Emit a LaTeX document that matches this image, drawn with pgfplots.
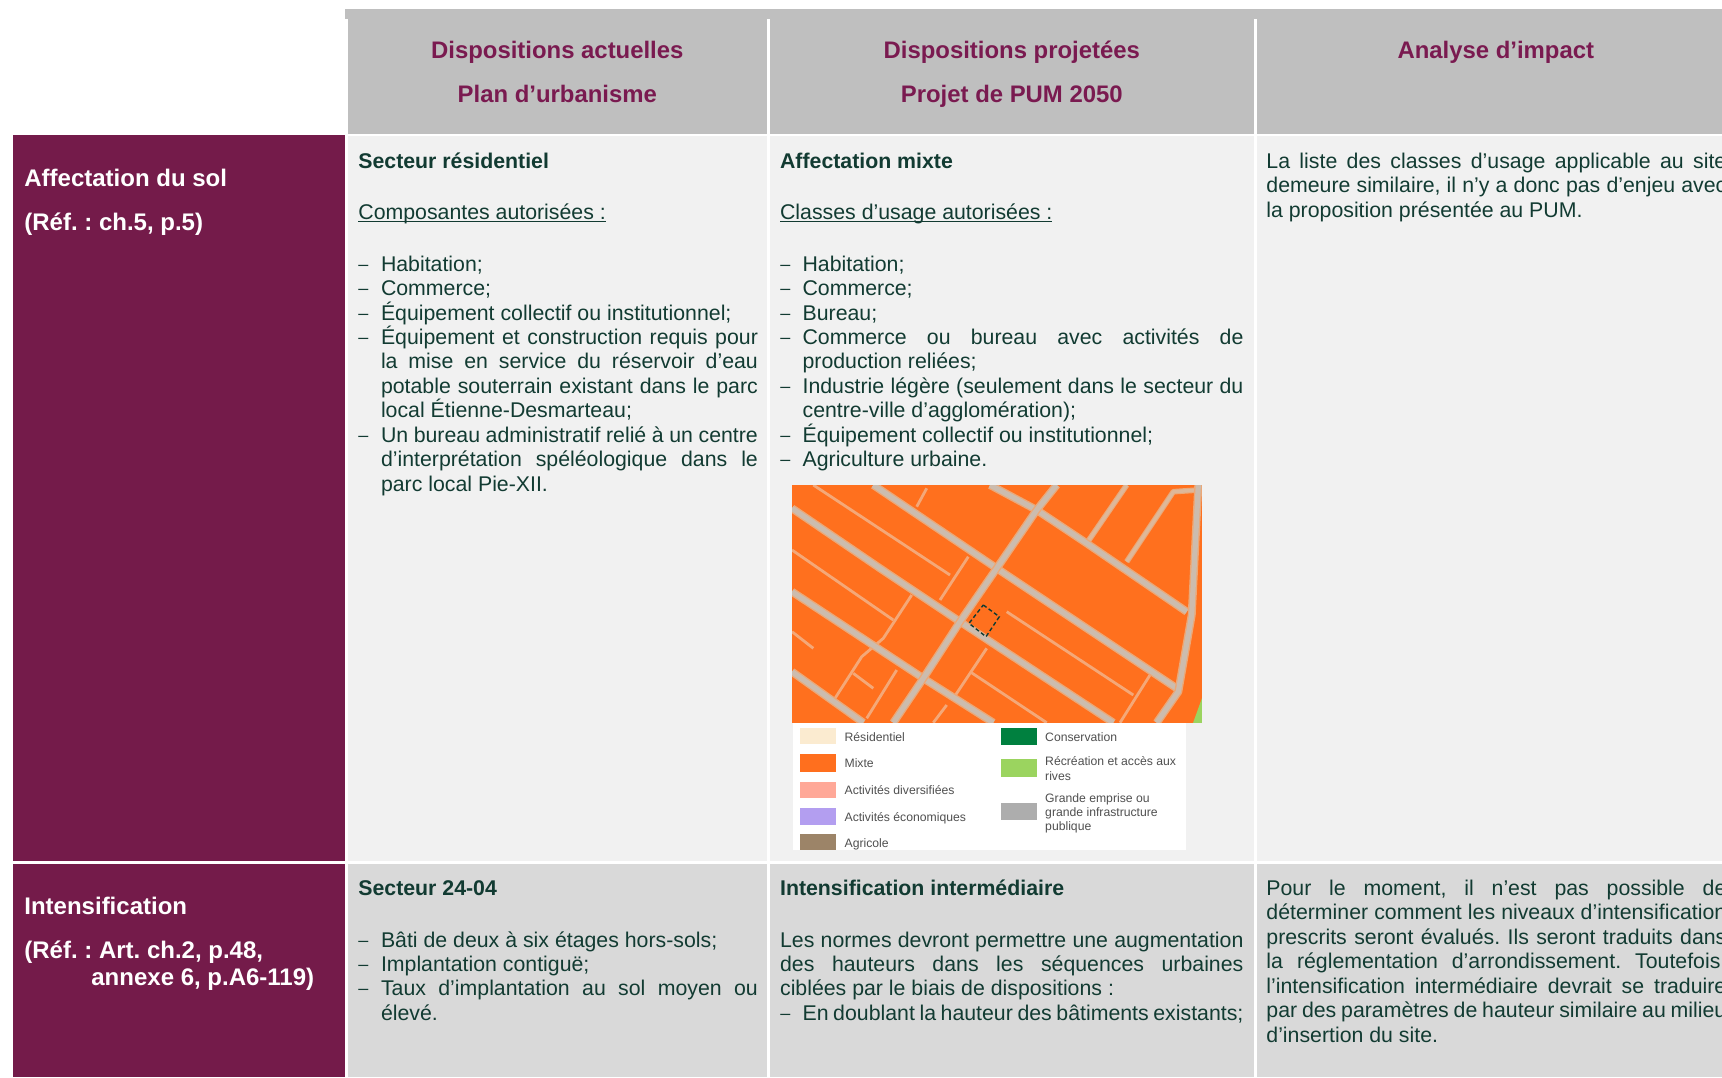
\documentclass[border=0pt]{standalone}
\usepackage{pgfplots}
\pgfplotsset{compat=1.18}
\usepackage{fontspec}
\setmainfont{Liberation Sans}
\frenchspacing
\definecolor{purp}{HTML}{741B4A}
\definecolor{headc}{HTML}{BFBFBF}
\definecolor{rowa}{HTML}{F1F1F1}
\definecolor{rowb}{HTML}{D9D9D9}
\definecolor{tx}{HTML}{123B32}
\definecolor{headt}{HTML}{7A1A50}
\definecolor{mapo}{HTML}{FF701E}
\definecolor{mapg}{HTML}{9BD45F}
\definecolor{roadM}{HTML}{CCBCAE}
\definecolor{roadH}{HTML}{EBA878}
\definecolor{roadN}{HTML}{DDB89A}
\definecolor{roadS}{HTML}{F4A878}
\definecolor{legt}{HTML}{505050}
\definecolor{la}{HTML}{FBEBD0}
\definecolor{lb}{HTML}{FF6F1E}
\definecolor{lc}{HTML}{FFA898}
\definecolor{ld}{HTML}{B39EF0}
\definecolor{le}{HTML}{9C8468}
\definecolor{lf}{HTML}{00803F}
\definecolor{lg}{HTML}{ADADAD}
\newcommand\Bd{\fontsize{10.65}{12}\selectfont\frenchspacing}
\newcommand\Ul[1]{\setbox0\hbox{#1}\rlap{\rule[-1.7pt]{\wd0}{0.6pt}}\box0}
\newcommand\Ds{{\fontsize{9}{10}\selectfont\raisebox{0.5pt}{–}}}
\newcommand\T[3]{\node[anchor=base west,inner sep=0pt,text=tx] at (axis cs:#1,#2){\Bd #3};}
\newcommand\J[4]{\node[anchor=base west,inner sep=0pt,text=tx] at (axis cs:#1,#2){\Bd\makebox[#3][s]{#4}};}
\newcommand\B[3]{\node[anchor=base west,inner sep=0pt,text=white] at (axis cs:#1,#2){\fontsize{12}{13}\selectfont\bfseries\frenchspacing #3};}
\newcommand\Hd[3]{\node[anchor=base,inner sep=0pt,text=headt] at (axis cs:#1,#2){\fontsize{11.95}{13}\selectfont\bfseries #3};}
\newcommand\Lg[3]{\node[anchor=base west,inner sep=0pt,text=legt] at (axis cs:#1,#2){\fontsize{6.1}{7}\selectfont #3};}
\newcommand\Rect[5]{\addplot[draw=none,fill=#5,forget plot] coordinates {(#1,#2)(#3,#2)(#3,#4)(#1,#4)} --cycle;}
\pgfplotsset{maj/.style={roadM,line width=2.6pt,line join=round,no markers,forget plot,preaction={draw,roadH,line width=4pt}},
  med/.style={roadN,line width=1.7pt,line join=round,no markers,forget plot,preaction={draw,roadH,line width=2.8pt}},
  mnr/.style={roadS,line width=1.4pt,line join=round,no markers,forget plot}}
\begin{document}
\begin{tikzpicture}
\useasboundingbox (0,0) rectangle (861pt,538.5pt);
\begin{axis}[at={(0,0)},anchor=south west,scale only axis,width=861pt,height=538.5pt,
  xmin=0,xmax=1722,ymin=0,ymax=1077,y dir=reverse,hide axis]
% table cells
\Rect{345}{9}{1722}{19}{headc}
\Rect{348}{19}{767}{134}{headc}
\Rect{770}{19}{1254}{134}{headc}
\Rect{1257}{19}{1722}{134}{headc}
\Rect{13}{135}{345}{861}{purp}
\Rect{348}{136}{767}{861}{rowa}
\Rect{770}{136}{1254}{861}{rowa}
\Rect{1257}{136}{1722}{861}{rowa}
\Rect{13}{864}{345}{1077}{purp}
\Rect{348}{864}{767}{1077}{rowb}
\Rect{770}{864}{1254}{1077}{rowb}
\Rect{1257}{864}{1722}{1077}{rowb}
% map
\Rect{792}{485}{1202}{723}{mapo}
\addplot[draw=none,fill=mapg,forget plot] coordinates {(1193,723)(1202,698)(1202,723)} --cycle;
\addplot[mnr] coordinates {(813.3,485)(950,575)};
\addplot[mnr] coordinates {(792,550)(893.3,620)};
\addplot[mnr] coordinates {(1006.7,611.7)(1133.3,695)};
\addplot[mnr] coordinates {(792,631.7)(813.3,648.3)};
\addplot[mnr] coordinates {(970,671.7)(1046.7,722.7)};
\addplot[mnr] coordinates {(853.3,673.3)(873.3,688.3)};
\addplot[mnr] coordinates {(926.7,488.3)(916.7,506.7)};
\addplot[mnr] coordinates {(968.3,556.7)(940,600)};
\addplot[mnr] coordinates {(911.7,595)(883.3,638.3)(861.7,656.7)(835,698.3)};
\addplot[mnr] coordinates {(896.7,670)(866.7,718.3)};
\addplot[mnr] coordinates {(986.7,648.3)(953.3,698.3)};
\addplot[mnr] coordinates {(1150,675)(1120,722.7)};
\addplot[mnr] coordinates {(946.7,705)(933.3,722.7)};
\addplot[med] coordinates {(1126.7,485)(1086.7,543.3)};
\addplot[med] coordinates {(1198.3,490)(1173.3,491.7)(1126.7,561.7)};
\addplot[maj] coordinates {(873.3,485)(996.7,568.3)(1176.7,688.3)};
\addplot[maj] coordinates {(990,485)(1036.7,510)(1086.7,543.3)(1186.7,611.7)};
\addplot[maj] coordinates {(792,508.3)(880,568.3)(960,621.7)(1113.3,722.7)};
\addplot[maj] coordinates {(792,591.7)(923.3,678.3)(993.3,722.7)};
\addplot[maj] coordinates {(792,671.7)(863.3,722.7)};
\addplot[maj] coordinates {(1056.7,485)(1036.7,510)(996.7,568.3)(960,621.7)(923.3,678.3)(893.3,722.7)};
\addplot[maj] coordinates {(1198.3,485)(1191.7,615)(1178.3,691.7)(1156.7,722.7)};
\addplot[tx,line width=0.7pt,dash pattern=on 2pt off 1.3pt,no markers,forget plot] coordinates {(983.3,605)(999.3,616.7)(986,636.7)(969,623.3)(983.3,605)};
% masks round the map
\Rect{775}{472}{1250}{485}{rowa}
\Rect{775}{472}{792}{740}{rowa}
\Rect{1202}{472}{1250}{740}{rowa}
\Rect{1186}{723}{1250}{740}{rowa}
\Rect{785}{723}{792.7}{740}{rowa}
% legend
\Rect{792.7}{723}{1186}{850}{white}
\Rect{800}{728.3}{836}{744.3}{la}
\Rect{800}{754.3}{836}{772.3}{lb}
\Rect{800}{781.7}{836}{798.3}{lc}
\Rect{800}{808.3}{836}{825}{ld}
\Rect{800}{834.3}{836}{850}{le}
\Rect{1000.7}{727.7}{1036.7}{745}{lf}
\Rect{1000.7}{759}{1036.7}{777}{mapg}
\Rect{1000.7}{803}{1036.7}{820}{lg}
\Lg{844.2}{741}{Résidentiel}
\Lg{844.2}{767.5}{Mixte}
\Lg{844.2}{794.5}{Activités diversifiées}
\Lg{844.2}{821}{Activités économiques}
\Lg{844.2}{847.5}{Agricole}
\Lg{1044.8}{741}{Conservation}
\Lg{1044.8}{765}{Récréation et accès aux}
\Lg{1044.8}{780.5}{rives}
\Lg{1044.8}{802}{Grande emprise ou}
\Lg{1044.8}{816.5}{grande infrastructure}
\Lg{1044.8}{830.5}{publique}
% headers
\Hd{557.3}{58}{Dispositions actuelles}
\Hd{557.3}{102}{Plan d’urbanisme}
\Hd{1011.8}{58}{Dispositions projetées}
\Hd{1011.8}{102}{Projet de PUM 2050}
\Hd{1495.8}{58}{Analyse d’impact}
% left column
\B{24}{186.5}{Affectation du sol}
\B{24}{230.5}{(Réf. : ch.5, p.5)}
\B{24}{914.5}{Intensification}
\B{24}{958}{(Réf. : Art. ch.2, p.48,}
\B{91}{985}{annexe 6, p.A6-119)}
% row 1, column 1
\T{358}{168.3}{\bfseries Secteur résidentiel}
\T{358}{219}{\Ul{Composantes autorisées :}}
\T{358}{271.5}{\Ds}\T{380.6}{271.5}{Habitation;}
\T{358}{295.9}{\Ds}\T{380.6}{295.9}{Commerce;}
\T{358}{320}{\Ds}\T{380.6}{320}{Équipement collectif ou institutionnel;}
\T{358}{344.5}{\Ds}\J{380.6}{344.5}{188.45pt}{Équipement et construction requis pour}
\J{380.6}{368.7}{188.45pt}{la mise en service du réservoir d’eau}
\J{380.6}{393.3}{188.45pt}{potable souterrain existant dans le parc}
\T{380.6}{417.9}{local Étienne-Desmarteau;}
\T{358}{442.3}{\Ds}\J{380.6}{442.3}{188.45pt}{Un bureau administratif relié à un centre}
\J{380.6}{466.9}{188.45pt}{d’interprétation spéléologique dans le}
\T{380.6}{491.1}{parc local Pie-XII.}
% row 1, column 2
\T{779.7}{168.3}{\bfseries Affectation mixte}
\T{779.7}{219}{\Ul{Classes d’usage autorisées :}}
\T{780}{271.5}{\Ds}\T{802.2}{271.5}{Habitation;}
\T{780}{295.9}{\Ds}\T{802.2}{295.9}{Commerce;}
\T{780}{320}{\Ds}\T{802.2}{320}{Bureau;}
\T{780}{344.5}{\Ds}\J{802.2}{344.5}{220.4pt}{Commerce ou bureau avec activités de}
\T{802.2}{368.7}{production reliées;}
\T{780}{393.3}{\Ds}\J{802.2}{393.3}{220.4pt}{Industrie légère (seulement dans le secteur du}
\T{802.2}{417.9}{centre-ville d’agglomération);}
\T{780}{442.3}{\Ds}\T{802.2}{442.3}{Équipement collectif ou institutionnel;}
\T{780}{466.7}{\Ds}\T{802.2}{466.7}{Agriculture urbaine.}
% row 1, column 3
\J{1266}{168.3}{230pt}{La liste des classes d’usage applicable au site}
\J{1266}{192.5}{230pt}{demeure similaire, il n’y a donc pas d’enjeu avec}
\T{1266}{217.4}{la proposition présentée au PUM.}
% row 2, column 1
\T{358}{895.5}{\bfseries Secteur 24-04}
\T{358}{947.5}{\Ds}\T{380.6}{947.5}{Bâti de deux à six étages hors-sols;}
\T{358}{971.9}{\Ds}\T{380.6}{971.9}{Implantation contiguë;}
\T{358}{995.9}{\Ds}\J{380.6}{995.9}{188.45pt}{Taux d’implantation au sol moyen ou}
\T{380.6}{1020.7}{élevé.}
% row 2, column 2
\T{779.7}{895.5}{\bfseries Intensification intermédiaire}
\J{779.7}{947.5}{231.65pt}{Les normes devront permettre une augmentation}
\J{779.7}{971.9}{231.65pt}{des hauteurs dans les séquences urbaines}
\T{779.7}{995.9}{ciblées par le biais de dispositions :}
\T{780}{1020.7}{\Ds}\J{802.2}{1020.7}{220.4pt}{En doublant la hauteur des bâtiments existants;}
% row 2, column 3
\J{1266}{895.5}{230pt}{Pour le moment, il n’est pas possible de}
\J{1266}{919.9}{230pt}{déterminer comment les niveaux d’intensification}
\J{1266}{944.5}{230pt}{prescrits seront évalués. Ils seront traduits dans}
\J{1266}{968.9}{230pt}{la réglementation d’arrondissement. Toutefois,}
\J{1266}{993.3}{230pt}{l’intensification intermédiaire devrait se traduire}
\J{1266}{1017.7}{230pt}{par des paramètres de hauteur similaire au milieu}
\T{1266}{1042.4}{d’insertion du site.}
\end{axis}
\end{tikzpicture}
\end{document}
